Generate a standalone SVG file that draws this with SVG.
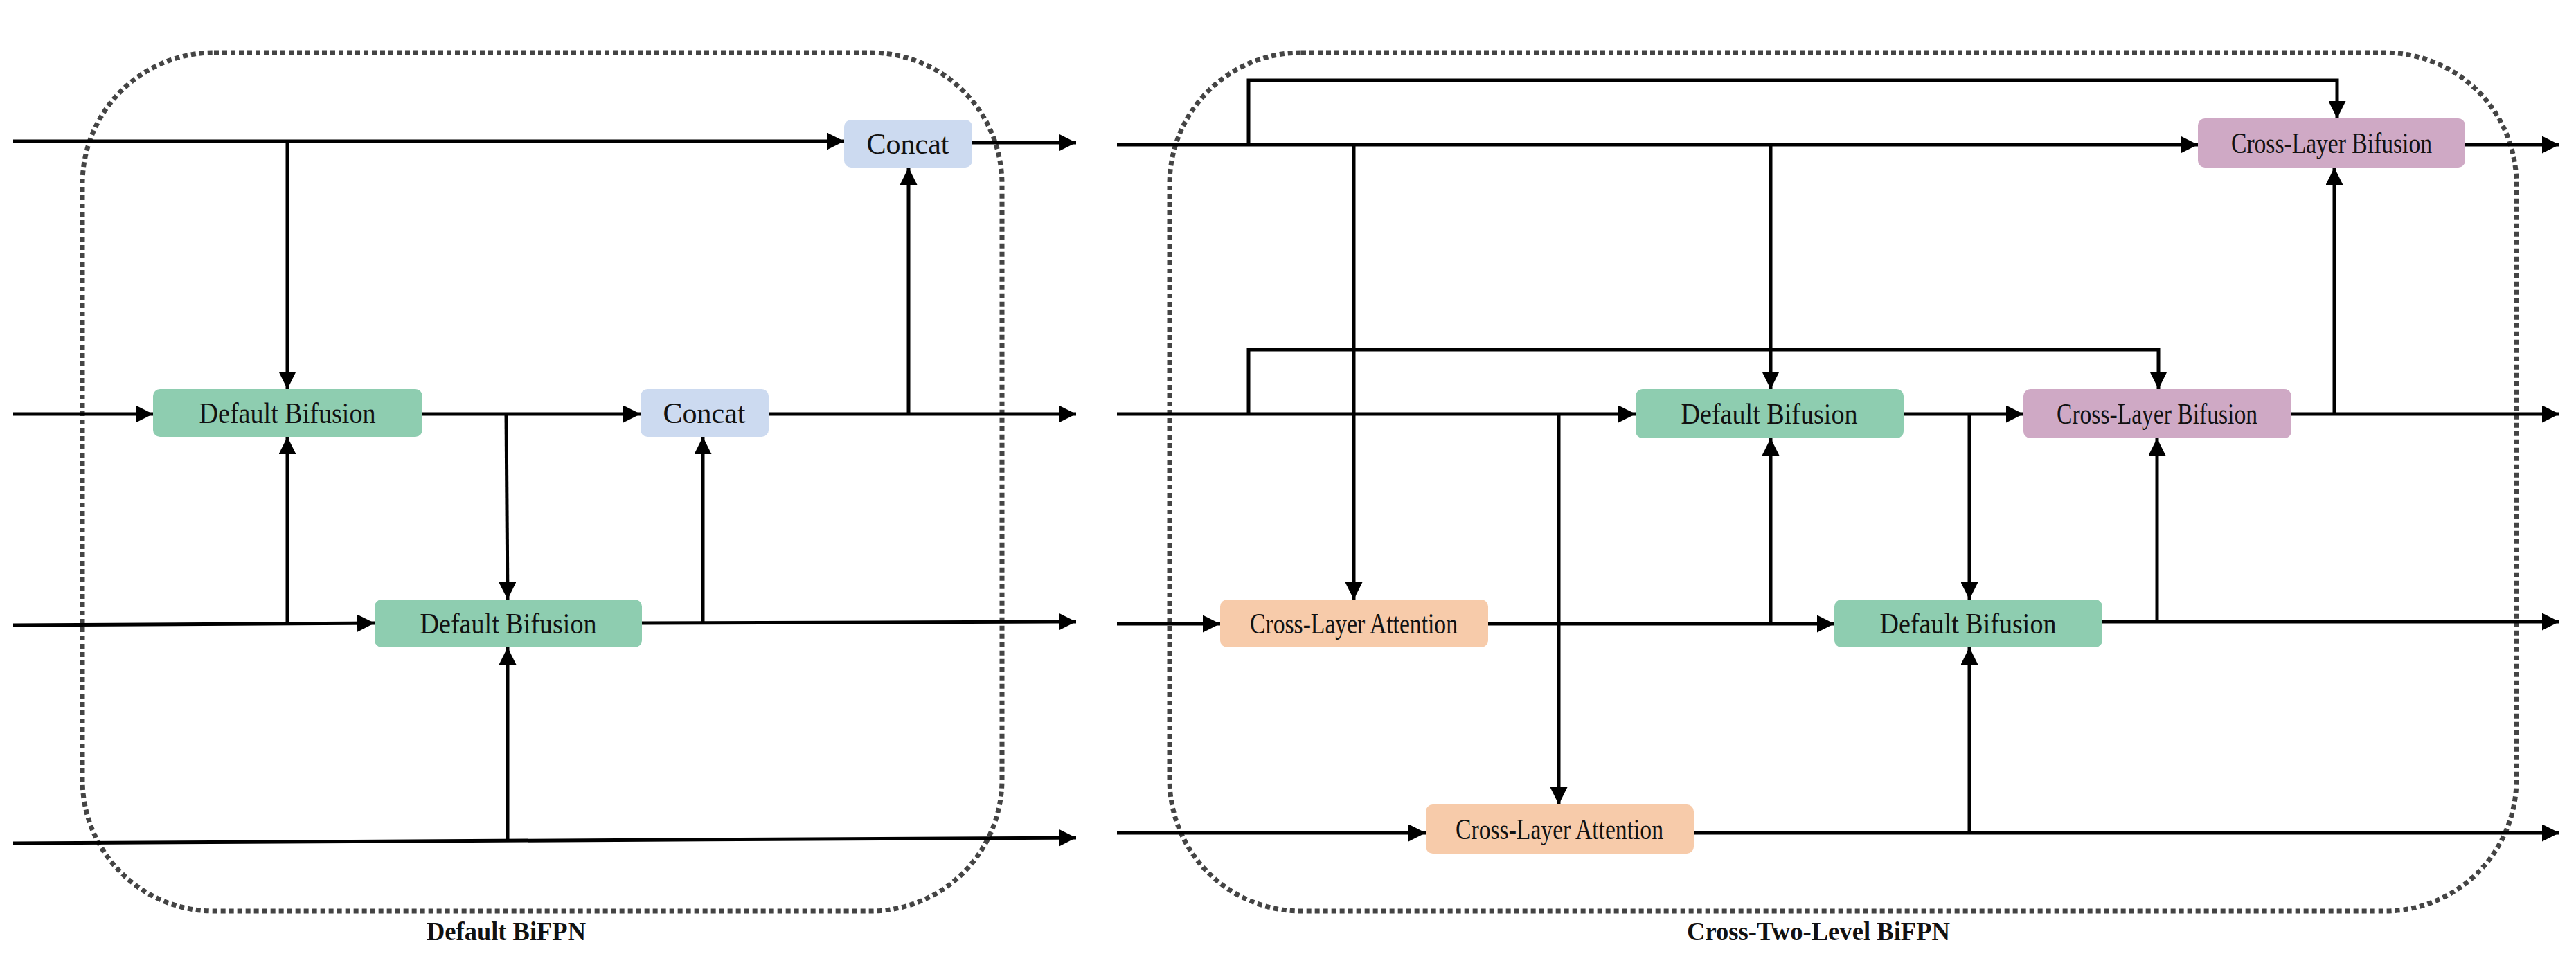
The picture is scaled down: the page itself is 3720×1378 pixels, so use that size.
<svg xmlns="http://www.w3.org/2000/svg" width="3720" height="1378" viewBox="0 0 3720 1378">
<style>
.c{fill:none;stroke:#000;stroke-width:5}
.a{marker-end:url(#ah)}
.t{font-family:"Liberation Serif","Times New Roman",serif;font-size:42px;text-anchor:middle;dominant-baseline:central;fill:#111}
.b{font-family:"Liberation Serif","Times New Roman",serif;font-size:38px;font-weight:bold;text-anchor:middle;fill:#111}
.g{fill:#8ECDB0}.bl{fill:#CCDAF0}.p{fill:#CFA9C5}.o{fill:#F7CBAA}
.box{fill:none;stroke:#444;stroke-width:7;stroke-dasharray:7 5}
</style>
<defs><marker id="ah" viewBox="0 0 10 10" refX="10" refY="5" markerWidth="5" markerHeight="5" orient="auto" markerUnits="strokeWidth"><path d="M0,0L10,5L0,10z" fill="#000"/></marker></defs>
<rect class="box" x="119" y="76" width="1328" height="1240" rx="190"/>
<rect class="box" x="1689" y="76" width="1945" height="1240" rx="190"/>
<text class="b" x="731" y="1358" textLength="230" lengthAdjust="spacingAndGlyphs">Default BiFPN</text>
<text class="b" x="2626" y="1358" textLength="380" lengthAdjust="spacingAndGlyphs">Cross-Two-Level BiFPN</text>
<g id="connectors">
<path class="c a" d="M19,204H1219"/><path class="c a" d="M1404,206H1554"/>
<path class="c a" d="M19,598H221"/><path class="c a" d="M610,598H925"/><path class="c a" d="M1110,598H1554"/>
<path class="c a" d="M19,903L541,900"/><path class="c a" d="M927,900L1554,898"/>
<path class="c a" d="M19,1218L1554,1210"/>
<path class="c a" d="M415,204V562"/><path class="c a" d="M415,900V631"/>
<path class="c a" d="M731,598L733,866"/><path class="c a" d="M733,1214V935"/>
<path class="c a" d="M1015,900V631"/><path class="c a" d="M1312,598V242"/>
<path class="c a" d="M1613,209H3174"/><path class="c a" d="M3560,209H3696"/>
<path class="c a" d="M1613,598H2362"/><path class="c a" d="M2749,598H2922"/><path class="c a" d="M3309,598H3696"/>
<path class="c a" d="M1613,901H1762"/><path class="c a" d="M2149,901H2649"/><path class="c a" d="M3036,898H3696"/>
<path class="c a" d="M1613,1203H2059"/><path class="c a" d="M2446,1203H3696"/>
<path class="c a" d="M1803,209V116H3375V171"/>
<path class="c a" d="M1803,598V505H3117V562"/>
<path class="c a" d="M1955,209V866"/>
<path class="c a" d="M2557,209V562"/><path class="c a" d="M2557,901V633"/>
<path class="c a" d="M2251,598V1162"/>
<path class="c a" d="M2844,598V866"/><path class="c a" d="M2844,1203V935"/>
<path class="c a" d="M3115,898V633"/><path class="c a" d="M3371,598V242"/>
</g>
<g id="concat1"><rect class="bl" x="1219" y="173" width="185" height="69" rx="10"/><text class="t" x="1311" y="208">Concat</text></g>
<g id="db1"><rect class="g" x="221" y="562" width="389" height="69" rx="10"/><text class="t" x="415" y="597" textLength="255" lengthAdjust="spacingAndGlyphs">Default  Bifusion</text></g>
<g id="concat2"><rect class="bl" x="925" y="562" width="185" height="69" rx="10"/><text class="t" x="1017" y="597">Concat</text></g>
<g id="db2"><rect class="g" x="541" y="866" width="386" height="69" rx="10"/><text class="t" x="734" y="901" textLength="255" lengthAdjust="spacingAndGlyphs">Default  Bifusion</text></g>
<g id="clb1"><rect class="p" x="3174" y="171" width="386" height="71" rx="10"/><text class="t" x="3367" y="207" textLength="290" lengthAdjust="spacingAndGlyphs">Cross-Layer Bifusion</text></g>
<g id="rdb1"><rect class="g" x="2362" y="562" width="387" height="71" rx="10"/><text class="t" x="2555" y="598" textLength="255" lengthAdjust="spacingAndGlyphs">Default  Bifusion</text></g>
<g id="clb2"><rect class="p" x="2922" y="562" width="387" height="71" rx="10"/><text class="t" x="3115" y="598" textLength="290" lengthAdjust="spacingAndGlyphs">Cross-Layer Bifusion</text></g>
<g id="cla1"><rect class="o" x="1762" y="866" width="387" height="69" rx="10"/><text class="t" x="1955" y="901" textLength="300" lengthAdjust="spacingAndGlyphs">Cross-Layer Attention</text></g>
<g id="rdb2"><rect class="g" x="2649" y="866" width="387" height="69" rx="10"/><text class="t" x="2842" y="901" textLength="255" lengthAdjust="spacingAndGlyphs">Default  Bifusion</text></g>
<g id="cla2"><rect class="o" x="2059" y="1162" width="387" height="71" rx="10"/><text class="t" x="2252" y="1198" textLength="300" lengthAdjust="spacingAndGlyphs">Cross-Layer Attention</text></g>
</svg>
